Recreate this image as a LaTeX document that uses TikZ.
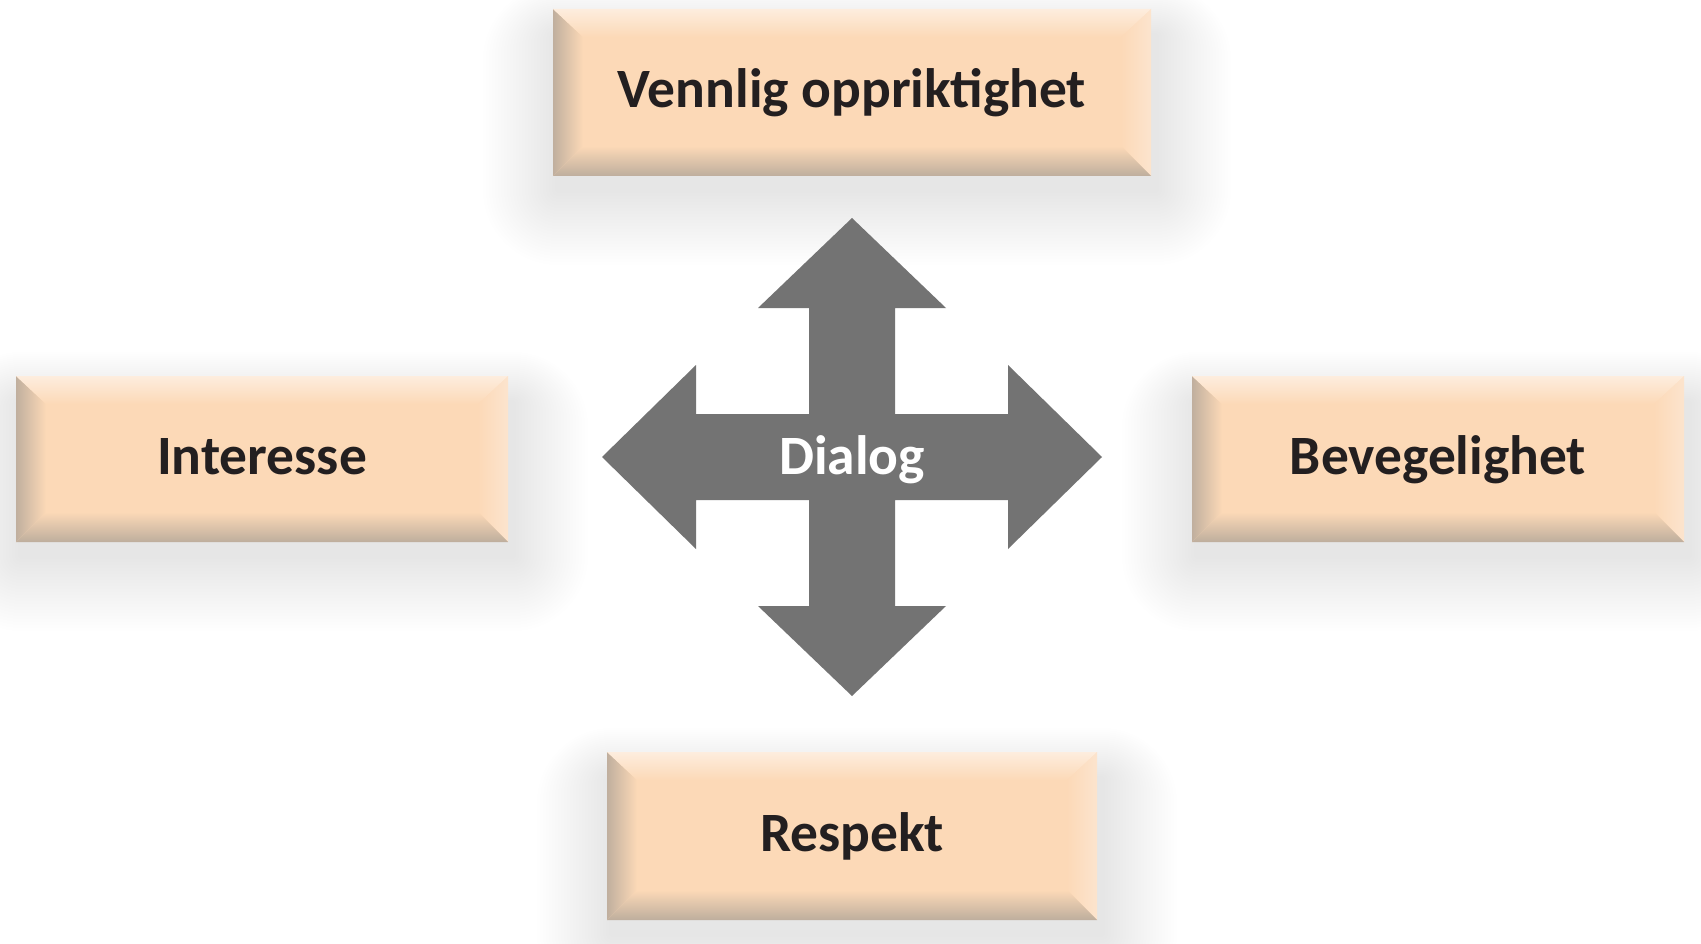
\documentclass[tikz,border=0pt]{standalone}
\usepackage{fontspec}
\setmainfont{Carlito}
\definecolor{peach}{RGB}{252,217,183}
\definecolor{toplight}{RGB}{253,237,222}
\definecolor{botdark}{RGB}{190,174,157}
\definecolor{leftdark}{RGB}{192,175,158}
\definecolor{rightlight}{RGB}{252,228,206}
\definecolor{arrowgray}{RGB}{115,115,115}
\definecolor{txt}{RGB}{35,31,32}
\pgfdeclarelayer{bg}
\pgfdeclarelayer{shadow}
\pgfsetlayers{bg,shadow,main}
\newcommand\pbox[6]{%
  \node[boxnode, minimum width={#4-#2}, minimum height={#5-#3}] (#1) at (#2,#3) {};
  \begin{pgfonlayer}{shadow}
    \foreach \i in {1,...,25}{
      \pgfmathsetmacro{\rr}{3*\i}
      \fill[black, opacity=0.0048, rounded corners=\rr pt]
        ([shift={(-3*\i+5,26-2*\i)}]#1.north west) rectangle ([shift={(3*\i+5,14+3*\i)}]#1.south east);
    }
  \end{pgfonlayer}
  \shade[left color=leftdark, right color=peach]
    (#1.north west) -- (#1.south west) -- ([shift={(30,-30)}]#1.south west) -- ([shift={(30,28)}]#1.north west) -- cycle;
  \shade[left color=peach, right color=rightlight]
    (#1.north east) -- (#1.south east) -- ([shift={(-30,-30)}]#1.south east) -- ([shift={(-30,28)}]#1.north east) -- cycle;
  \shade[top color=toplight, bottom color=peach]
    (#1.north west) -- (#1.north east) -- ([shift={(-30,28)}]#1.north east) -- ([shift={(30,28)}]#1.north west) -- cycle;
  \shade[top color=peach, bottom color=botdark]
    (#1.south west) -- (#1.south east) -- ([shift={(-30,-30)}]#1.south east) -- ([shift={(30,-30)}]#1.south west) -- cycle;
  \node[lbl] (#1-t) at ([shift={(0,15)}]#1.center) {#6};
}
\begin{document}
\begin{tikzpicture}[x=1pt,y=-1pt,
  boxnode/.style={draw=none, fill=peach, inner sep=0pt, outer sep=0pt, anchor=north west},
  lbl/.style={font=\fontsize{55.5}{66}\selectfont\bfseries, text=txt, anchor=base, inner sep=0pt},
  dlgstyle/.style={font=\fontsize{55.5}{66}\selectfont\bfseries, text=white, anchor=base, inner sep=0pt}]
\begin{pgfonlayer}{bg}
  \fill[white] (0,0) rectangle (1701,944);
\end{pgfonlayer}
\useasboundingbox (0,0) rectangle (1701,944);

\pbox{top}{553}{9}{1151}{176}{Vennlig oppriktighet}
\pbox{left}{16}{376}{508}{542}{Interesse}
\pbox{right}{1192}{376}{1684}{542}{Bevegelighet}
\pbox{bottom}{607}{752}{1097}{920}{Respekt}

\coordinate (c) at (852,457);
\begin{scope}[shift={(852,457)}]
\fill[arrowgray] (0,-239) -- (94,-149) -- (43,-149) -- (43,-43) -- (156,-43) -- (156,-92) -- (250,0)
  -- (156,92) -- (156,43) -- (43,43) -- (43,149) -- (94,149) -- (0,239) -- (-94,149) -- (-43,149)
  -- (-43,43) -- (-156,43) -- (-156,92) -- (-250,0) -- (-156,-92) -- (-156,-43) -- (-43,-43)
  -- (-43,-149) -- (-94,-149) -- cycle;
\end{scope}
\node[dlgstyle] (dlg) at ([shift={(0,17)}]c) {Dialog};
\end{tikzpicture}
\end{document}
